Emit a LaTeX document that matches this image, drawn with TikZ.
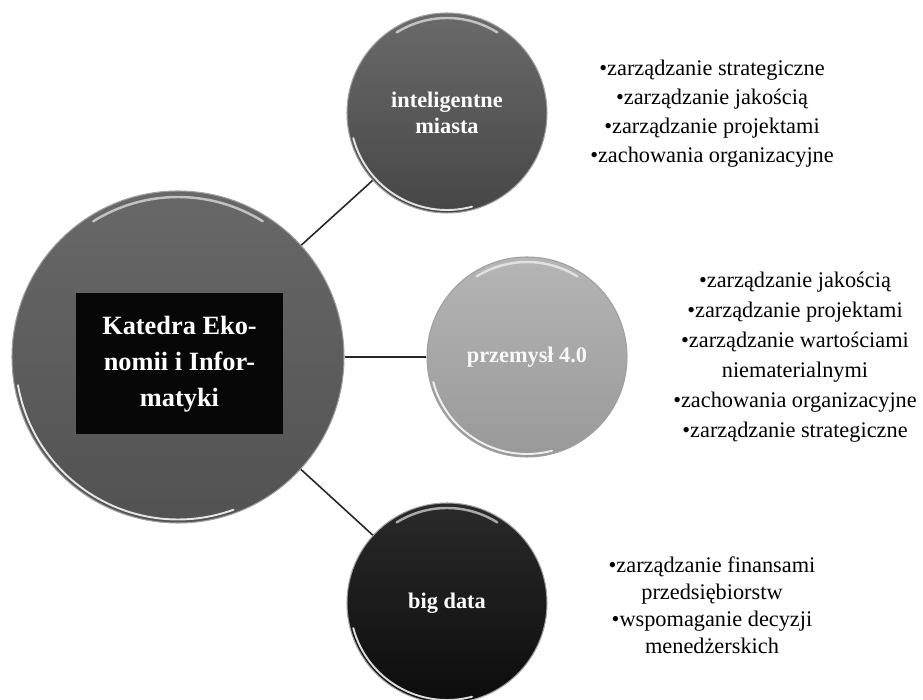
\documentclass[tikz,border=0pt]{standalone}
\usepackage{fontspec}
\setmainfont{Liberation Serif}
\usepackage{tikz}
\definecolor{katedratop}{HTML}{686868}
\definecolor{katedrabot}{HTML}{525252}
\definecolor{miastatop}{HTML}{6A6A6A}
\definecolor{miastabot}{HTML}{464646}
\definecolor{przemysltop}{HTML}{B5B5B5}
\definecolor{przemyslbot}{HTML}{999999}
\definecolor{bigdatatop}{HTML}{2A2A2A}
\definecolor{bigdatabot}{HTML}{0C0C0C}
\definecolor{boxblack}{HTML}{070707}

\begin{document}
\begin{tikzpicture}[
  bubble/.style={circle, minimum size=4cm, inner sep=0pt, draw=gray!75, line width=0.6pt,
    align=center, text=white, font=\bfseries\fontsize{12.7}{14.5}\selectfont},
  glare/.style={white, line width=1.4pt, opacity=0.6, line cap=round},
  rim/.style={white, line width=1.1pt, opacity=0.85, line cap=round},
  topics/.style={align=center, font=\fontsize{12.7}{16.5}\selectfont},
  link/.style={draw=black!85, line width=0.9pt}]
\useasboundingbox (0,0) rectangle (18.46,14);
% centre
\node[bubble, minimum size=6.64cm, top color=katedratop, bottom color=katedrabot] (katedra) at (3.56,6.86) {};
\node[fill=boxblack, text=white, minimum width=4.14cm, minimum height=2.82cm, align=center,
  font=\bfseries\fontsize{15}{20.5}\selectfont] (nazwa) at (3.59,6.72) {Katedra Eko-\\nomii i Infor-\\matyki};
% kierunki
\node[bubble, top color=miastatop, bottom color=miastabot] (miasta) at (8.94,11.74) {inteligentne\\miasta};
\node[bubble, top color=przemysltop, bottom color=przemyslbot, text=gray!5] (przemysl) at (10.54,6.86) {przemysł 4.0};
\node[bubble, top color=bigdatatop, bottom color=bigdatabot] (bigdata) at (8.94,1.94) {big data};
% odblaski
\draw[glare] ([shift={(58:3.2)}]katedra.center) arc (58:122:3.2);
\draw[rim] ([shift={(190:3.25)}]katedra.center) arc (190:290:3.25);
\draw[glare] ([shift={(58:1.9)}]miasta.center) arc (58:122:1.9);
\draw[rim] ([shift={(195:1.94)}]miasta.center) arc (195:285:1.94);
\draw[glare] ([shift={(58:1.9)}]przemysl.center) arc (58:122:1.9);
\draw[rim] ([shift={(195:1.94)}]przemysl.center) arc (195:285:1.94);
\draw[glare] ([shift={(58:1.9)}]bigdata.center) arc (58:122:1.9);
\draw[rim] ([shift={(195:1.94)}]bigdata.center) arc (195:285:1.94);
% polaczenia
\draw[link] (katedra) -- (miasta);
\draw[link] (katedra) -- (przemysl);
\draw[link] (katedra) -- (bigdata);
% listy
\node[topics] (listam) at (14.24,11.72) {•zarządzanie strategiczne\\•zarządzanie jakością\\•zarządzanie projektami\\•zachowania organizacyjne};
\node[topics, font=\fontsize{12.7}{17}\selectfont] (listap) at (15.9,6.86) {•zarządzanie jakością\\•zarządzanie projektami\\•zarządzanie wartościami\\niematerialnymi\\•zachowania organizacyjne\\•zarządzanie strategiczne};
\node[topics, font=\fontsize{12.7}{15.4}\selectfont] (listab) at (14.24,1.9) {•zarządzanie finansami\\przedsiębiorstw\\•wspomaganie decyzji\\menedżerskich};
\end{tikzpicture}
\end{document}
